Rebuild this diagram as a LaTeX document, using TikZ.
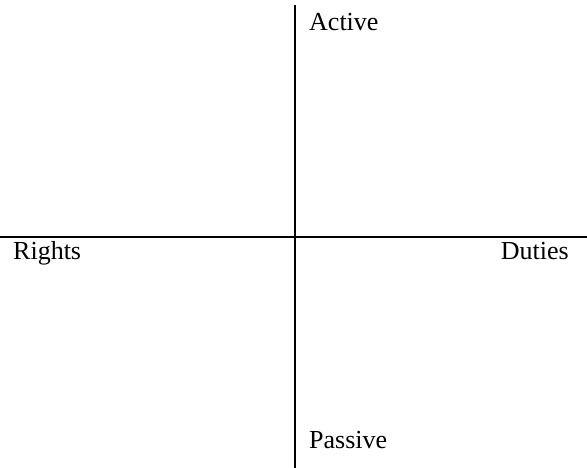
\documentclass[tikz,border=0pt]{standalone}
\usepackage{fontspec}
\setmainfont{Liberation Serif}
\usepackage{tikz}
\usetikzlibrary{positioning}
\begin{document}
\begin{tikzpicture}[x=1pt,y=1pt,font=\fontsize{26}{30}\selectfont,
  axis/.style={line width=2pt},
  lab/.style={inner sep=0pt}]
\useasboundingbox (0,0) rectangle (587,468);
\def\midx{295}
\def\midy{230.5}
% axes
\coordinate (top) at (\midx,463);
\coordinate (bottom) at (\midx,0);
\coordinate (left) at (0,\midy);
\coordinate (right) at (587,\midy);
\draw[axis] (top) -- (bottom);
\draw[axis] (left) -- (right);
% labels
\node[lab,anchor=base west] (active) at (309,437) {Active};
\node[lab,anchor=base west] (passive) at (309,19) {Passive};
\node[lab,anchor=base west] (rights) at (13,208) {Rights};
\node[lab,anchor=base east] (duties) at (569,208) {Duties};
\end{tikzpicture}
\end{document}
